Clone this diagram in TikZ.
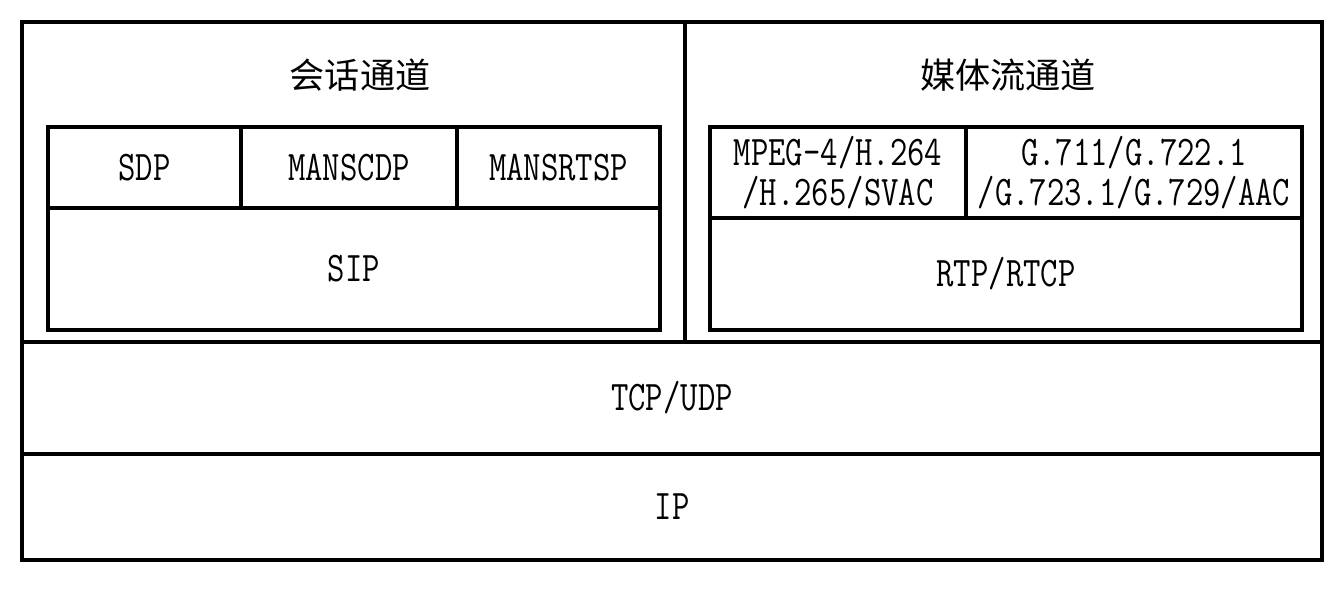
\documentclass[tikz,border=0pt]{standalone}
\usepackage{fontspec}
\setmonofont[FakeStretch=0.8]{Latin Modern Mono}
\newfontfamily\cjk{Noto Sans CJK SC}
\tikzset{
  cell/.style={draw,line width=2pt,inner sep=0pt,align=center,font=\ttfamily\fontsize{24}{23}\selectfont},
  title/.style={font=\cjk\fontsize{20}{24}\selectfont}
}
\begin{document}
\begin{tikzpicture}[x=0.02cm,y=-0.02cm]
			\useasboundingbox (0,0) rectangle (1334,594);
			% panels
			\node (session) [cell,minimum width=13.26cm,minimum height=6.4cm] at (353.5,182) {};
			\node (media) [cell,minimum width=12.74cm,minimum height=6.4cm] at (1003.5,182) {};
			\node (tcp) [cell,minimum width=26cm,minimum height=2.24cm] at (672,398) {TCP/UDP};
			\node (ip) [cell,minimum width=26cm,minimum height=2.12cm] at (672,507) {IP};
			\node (sessiontitle) [title] at (360,75) {会话通道};
			\node (mediatitle) [title] at (1008,75) {媒体流通道};

			% session channel
			\node (sdp) [cell,minimum width=3.86cm,minimum height=1.62cm] at (144.5,167.5) {SDP};
			\node (manscdp) [cell,minimum width=4.32cm,minimum height=1.62cm] at (349,167.5) {MANSCDP};
			\node (mansrtsp) [cell,minimum width=4.06cm,minimum height=1.62cm] at (558.5,167.5) {MANSRTSP};
			\node (sip) [cell,minimum width=12.24cm,minimum height=2.44cm] at (354,269) {SIP};

			% media channel
			\node (video) [cell,minimum width=5.12cm,minimum height=1.82cm] at (838,172.5) {MPEG-4/H.264\\/H.265/SVAC};
			\node (audio) [cell,minimum width=6.72cm,minimum height=1.82cm] at (1134,172.5) {G.711/G.722.1\\/G.723.1/G.729/AAC};
			\node (rtp) [cell,minimum width=11.84cm,minimum height=2.24cm] at (1006,274) {RTP/RTCP};
		    \end{tikzpicture}
\end{document}
